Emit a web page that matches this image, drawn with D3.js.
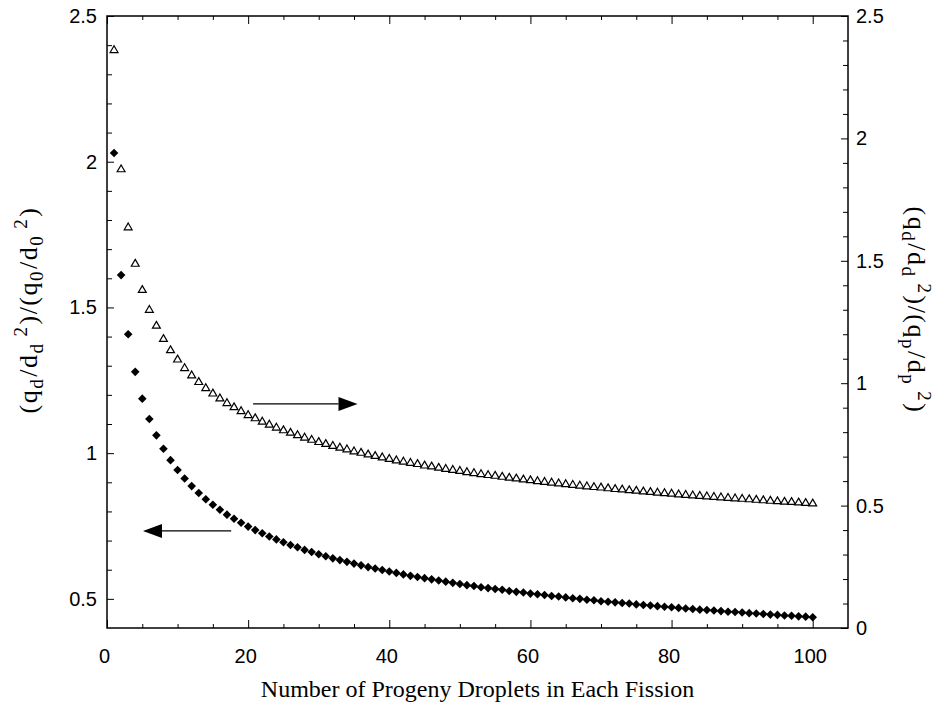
<!DOCTYPE html>
<html>
<head>
<meta charset="utf-8">
<script src="https://cdn.jsdelivr.net/npm/d3@7"></script>
<style>
	body { margin: 0; background: #fff; }
	svg { display: block; }
	.tick text { font-family: "Liberation Sans", Arial, sans-serif; font-size: 20px; fill: #000; }
	.tick line { stroke: #000; stroke-width: 1; }
	.title { font-family: "Liberation Serif", "Times New Roman", serif; font-size: 24px; fill: #000; }
	.ytitle { font-family: "Liberation Serif", "Times New Roman", serif; font-size: 26px; fill: #000; letter-spacing: 1.5px; }
</style>
</head>
<body>
<div id="chart"></div>
<script>
// number of progeny droplets (x)
var progeny = [1,2,3,4,5,6,7,8,9,10,11,12,13,14,15,16,17,18,19,20,
	21,22,23,24,25,26,27,28,29,30,31,32,33,34,35,36,37,38,39,40,
	41,42,43,44,45,46,47,48,49,50,51,52,53,54,55,56,57,58,59,60,
	61,62,63,64,65,66,67,68,69,70,71,72,73,74,75,76,77,78,79,80,
	81,82,83,84,85,86,87,88,89,90,91,92,93,94,95,96,97,98,99,100];

// (qd/dd^2)/(q0/d0^2) - filled diamonds, left axis
var leftRatio = [2.030,1.611,1.408,1.279,1.187,1.117,1.061,1.015,0.976,0.942,
	0.913,0.887,0.863,0.842,0.823,0.806,0.789,0.775,0.761,0.748,
	0.736,0.725,0.714,0.704,0.694,0.685,0.677,0.668,0.661,0.653,
	0.646,0.639,0.633,0.627,0.621,0.615,0.609,0.604,0.599,0.594,
	0.589,0.584,0.579,0.575,0.571,0.567,0.563,0.559,0.555,0.551,
	0.547,0.544,0.540,0.537,0.534,0.531,0.527,0.524,0.522,0.518,
	0.516,0.513,0.510,0.508,0.505,0.502,0.500,0.497,0.495,0.492,
	0.490,0.488,0.486,0.484,0.481,0.479,0.477,0.475,0.473,0.471,
	0.469,0.467,0.465,0.463,0.462,0.460,0.458,0.456,0.455,0.453,
	0.451,0.450,0.448,0.446,0.445,0.443,0.442,0.440,0.439,0.437];

// (qd/dd^2)/(qp/dp^2) - open triangles, right axis
var rightRatio = [2.360,1.873,1.636,1.487,1.380,1.299,1.234,1.180,1.134,1.096,
	1.061,1.031,1.004,0.979,0.957,0.937,0.918,0.901,0.885,0.869,
	0.856,0.842,0.830,0.818,0.807,0.797,0.787,0.777,0.768,0.759,
	0.751,0.743,0.736,0.729,0.721,0.715,0.708,0.702,0.696,0.690,
	0.684,0.679,0.674,0.669,0.663,0.659,0.654,0.649,0.645,0.641,
	0.636,0.632,0.628,0.624,0.621,0.617,0.613,0.610,0.606,0.603,
	0.599,0.596,0.593,0.590,0.587,0.584,0.581,0.578,0.575,0.573,
	0.570,0.567,0.565,0.562,0.560,0.557,0.555,0.552,0.550,0.548,
	0.545,0.543,0.541,0.539,0.537,0.535,0.533,0.531,0.529,0.527,
	0.525,0.523,0.521,0.519,0.517,0.515,0.514,0.512,0.510,0.508];

// tick values
var xMajor = [0,20,40,60,80,100];
var xMinor = [5,10,15,25,30,35,45,50,55,65,70,75,85,90,95];
var leftMajor = [0.5,1,1.5,2,2.5];
var leftMinor = [0.6,0.7,0.8,0.9,1.1,1.2,1.3,1.4,1.6,1.7,1.8,1.9,2.1,2.2,2.3,2.4];
var rightMajor = [0,0.5,1,1.5,2,2.5];
var rightMinor = [0.1,0.2,0.3,0.4,0.6,0.7,0.8,0.9,1.1,1.2,1.3,1.4,1.6,1.7,1.8,1.9,2.1,2.2,2.3,2.4];

// arrows: which way each series reads (x from, x to, y on left scale)
var arrows = [
	{x1: 20.7, x2: 35.5, y: 1.169},
	{x1: 17.6, x2: 5.1, y: 0.733}
];

var width = 945, height = 709;
var plotL = 107, plotR = 848, plotT = 16, plotB = 628;

var svg = d3.select("#chart")
	.append("svg")
	.attr("width", width)
	.attr("height", height);

svg.append("rect")
	.attr("width", width)
	.attr("height", height)
	.attr("fill", "#fff");

var x = d3.scaleLinear().domain([0, 105]).range([plotL, plotR]);
var yL = d3.scaleLinear().domain([0.4, 2.5]).range([plotB, plotT]);
var yR = d3.scaleLinear().domain([0, 2.5]).range([plotB, plotT]);

var fmt = d3.format("~g");

function addAxis(axis, tx, ty) {
	var g = svg.append("g")
		.attr("transform", "translate(" + tx + "," + ty + ")")
		.call(axis);
	g.select(".domain").remove();
	return g;
}

// bottom
addAxis(d3.axisBottom(x).tickValues(xMajor).tickSize(-8).tickSizeOuter(0).tickPadding(21).tickFormat(fmt), 0, plotB)
	.selectAll("text").attr("dx", -3);
addAxis(d3.axisBottom(x).tickValues(xMinor).tickSize(-4).tickSizeOuter(0).tickFormat(""), 0, plotB);
// top
addAxis(d3.axisTop(x).tickValues(xMajor).tickSize(-8).tickSizeOuter(0).tickFormat(""), 0, plotT);
addAxis(d3.axisTop(x).tickValues(xMinor).tickSize(-4).tickSizeOuter(0).tickFormat(""), 0, plotT);
// left
addAxis(d3.axisLeft(yL).tickValues(leftMajor).tickSize(-7).tickSizeOuter(0).tickPadding(10).tickFormat(fmt), plotL, 0);
addAxis(d3.axisLeft(yL).tickValues(leftMinor).tickSize(-5).tickSizeOuter(0).tickFormat(""), plotL, 0);
// right
addAxis(d3.axisRight(yR).tickValues(rightMajor).tickSize(-7).tickSizeOuter(0).tickPadding(8).tickFormat(fmt), plotR, 0);
addAxis(d3.axisRight(yR).tickValues(rightMinor).tickSize(-5).tickSizeOuter(0).tickFormat(""), plotR, 0);

// frame
svg.append("rect")
	.attr("x", plotL)
	.attr("y", plotT)
	.attr("width", plotR - plotL)
	.attr("height", plotB - plotT)
	.attr("fill", "none")
	.attr("stroke", "#000")
	.attr("stroke-width", 1.5);

// triangles (right axis)
svg.append("g")
	.selectAll("path")
	.data(progeny)
	.enter().append("path")
	.attr("d", d3.symbol().type(d3.symbolTriangle).size(27))
	.attr("transform", function (d, i) { return "translate(" + x(d) + "," + yR(rightRatio[i]) + ")"; })
	.attr("fill", "#fff")
	.attr("stroke", "#000")
	.attr("stroke-width", 1.2);

// diamonds (left axis)
svg.append("g")
	.selectAll("path")
	.data(progeny)
	.enter().append("path")
	.attr("d", d3.symbol().type(d3.symbolSquare).size(37))
	.attr("transform", function (d, i) { return "translate(" + x(d) + "," + yL(leftRatio[i]) + ") rotate(45)"; })
	.attr("fill", "#000");

// arrows
var arrowG = svg.append("g");
arrows.forEach(function (a) {
	var xa = x(a.x1), xb = x(a.x2), yy = yL(a.y);
	var dir = xb > xa ? 1 : -1;
	var headLen = 19, headHalf = 7;
	arrowG.append("line")
		.attr("x1", xa).attr("y1", yy)
		.attr("x2", xb - dir * headLen).attr("y2", yy)
		.attr("stroke", "#000")
		.attr("stroke-width", 1.2);
	arrowG.append("path")
		.attr("d", "M" + xb + "," + yy +
			"L" + (xb - dir * headLen) + "," + (yy - headHalf) +
			"L" + (xb - dir * headLen) + "," + (yy + headHalf) + "Z")
		.attr("fill", "#000");
});

// axis titles
svg.append("text")
	.attr("class", "title")
	.attr("x", (plotL + plotR) / 2)
	.attr("y", 697)
	.attr("text-anchor", "middle")
	.text("Number of Progeny Droplets in Each Fission");

function ratioLabel(sel, sub1, sub2) {
	var s = "19px";
	sel.append("tspan").text("(q");
	sel.append("tspan").attr("baseline-shift", "-30%").attr("font-size", s).text(sub1);
	sel.append("tspan").attr("dx", 1).text("/d");
	sel.append("tspan").attr("baseline-shift", "-30%").attr("font-size", s).text(sub1);
	sel.append("tspan").attr("baseline-shift", "55%").attr("font-size", s).attr("dx", 6).text("2");
	sel.append("tspan").attr("dx", 1).text(")/(q");
	sel.append("tspan").attr("baseline-shift", "-30%").attr("font-size", s).text(sub2);
	sel.append("tspan").attr("dx", 1).text("/d");
	sel.append("tspan").attr("baseline-shift", "-30%").attr("font-size", s).text(sub2);
	sel.append("tspan").attr("baseline-shift", "55%").attr("font-size", s).attr("dx", 6).text("2");
	sel.append("tspan").attr("dx", 1).text(")");
}

var yTitleL = svg.append("text")
	.attr("class", "ytitle")
	.attr("text-anchor", "middle")
	.attr("transform", "translate(37,310) rotate(-90)");
ratioLabel(yTitleL, "d", "0");

var yTitleR = svg.append("text")
	.attr("class", "ytitle")
	.attr("text-anchor", "middle")
	.attr("transform", "translate(908,310) rotate(90)");
ratioLabel(yTitleR, "d", "p");
</script>
</body>
</html>
